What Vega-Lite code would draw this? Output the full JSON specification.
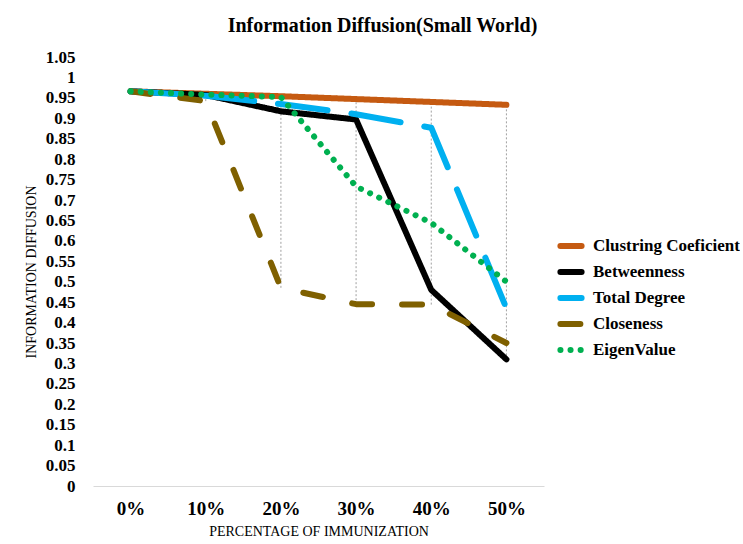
{
  "$schema": "https://vega.github.io/schema/vega-lite/v6.json",
  "width": 451,
  "height": 429,
  "padding": {"left": 24, "top": 16, "right": 0, "bottom": 5},
  "background": "white",
  "title": {
    "text": "Information Diffusion(Small World)",
    "font": "Liberation Serif",
    "fontSize": 20,
    "fontWeight": "bold",
    "color": "#000000",
    "anchor": "middle",
    "dx": 64,
    "offset": 12
  },
  "config": {
    "view": {"stroke": null},
    "font": "Liberation Serif"
  },
  "data": {
    "values": [
      {"pct": "0%", "series": "Clustring Coeficient", "value": 0.966},
      {"pct": "10%", "series": "Clustring Coeficient", "value": 0.96},
      {"pct": "20%", "series": "Clustring Coeficient", "value": 0.954},
      {"pct": "30%", "series": "Clustring Coeficient", "value": 0.947},
      {"pct": "40%", "series": "Clustring Coeficient", "value": 0.94},
      {"pct": "50%", "series": "Clustring Coeficient", "value": 0.933},
      {"pct": "0%", "series": "Betweenness", "value": 0.966},
      {"pct": "10%", "series": "Betweenness", "value": 0.957},
      {"pct": "20%", "series": "Betweenness", "value": 0.917},
      {"pct": "30%", "series": "Betweenness", "value": 0.897},
      {"pct": "40%", "series": "Betweenness", "value": 0.48},
      {"pct": "50%", "series": "Betweenness", "value": 0.31},
      {"pct": "0%", "series": "Total Degree", "value": 0.966},
      {"pct": "10%", "series": "Total Degree", "value": 0.955},
      {"pct": "20%", "series": "Total Degree", "value": 0.935},
      {"pct": "30%", "series": "Total Degree", "value": 0.91},
      {"pct": "40%", "series": "Total Degree", "value": 0.877},
      {"pct": "50%", "series": "Total Degree", "value": 0.435},
      {"pct": "0%", "series": "Closeness", "value": 0.966},
      {"pct": "10%", "series": "Closeness", "value": 0.942},
      {"pct": "20%", "series": "Closeness", "value": 0.485},
      {"pct": "30%", "series": "Closeness", "value": 0.445},
      {"pct": "40%", "series": "Closeness", "value": 0.444},
      {"pct": "50%", "series": "Closeness", "value": 0.35},
      {"pct": "0%", "series": "EigenValue", "value": 0.966},
      {"pct": "10%", "series": "EigenValue", "value": 0.958},
      {"pct": "20%", "series": "EigenValue", "value": 0.952},
      {"pct": "30%", "series": "EigenValue", "value": 0.733},
      {"pct": "40%", "series": "EigenValue", "value": 0.644},
      {"pct": "50%", "series": "EigenValue", "value": 0.5}
    ]
  },
  "encoding": {
    "x": {
      "field": "pct",
      "type": "ordinal",
      "sort": ["0%", "10%", "20%", "30%", "40%", "50%"],
      "scale": {"type": "point", "padding": 0.5},
      "axis": {
        "title": "PERCENTAGE  OF IMMUNIZATION",
        "titleFont": "Liberation Serif",
        "titleFontSize": 14,
        "titleFontWeight": "normal",
        "titleColor": "#000000",
        "titlePadding": 6,
        "labelFont": "Liberation Serif",
        "labelFontSize": 19,
        "labelFontWeight": "bold",
        "labelColor": "#000000",
        "labelAngle": 0,
        "labelPadding": 13,
        "ticks": false,
        "grid": false,
        "domain": true,
        "domainColor": "#d9d9d9",
        "domainWidth": 1
      }
    }
  },
  "layer": [
    {
      "mark": {"type": "rule", "color": "#a0a0a0", "strokeWidth": 1, "strokeDash": [2, 2]},
      "encoding": {
        "y": {
          "aggregate": "min",
          "field": "value",
          "type": "quantitative",
          "scale": {"domain": [0, 1.05], "nice": false},
          "axis": {
            "title": "INFORMATION DIFFUSION",
            "titleFont": "Liberation Serif",
            "titleFontSize": 14,
            "titleFontWeight": "normal",
            "titleColor": "#000000",
            "titlePadding": 7,
            "values": [0, 0.05, 0.1, 0.15, 0.2, 0.25, 0.3, 0.35, 0.4, 0.45, 0.5, 0.55, 0.6, 0.65, 0.7, 0.75, 0.8, 0.85, 0.9, 0.95, 1, 1.05],
            "format": "~g",
            "labelFont": "Liberation Serif",
            "labelFontSize": 17,
            "labelFontWeight": "bold",
            "labelColor": "#000000",
            "labelPadding": 18,
            "labelOverlap": false,
            "ticks": false,
            "grid": false,
            "domain": false
          }
        },
        "y2": {"aggregate": "max", "field": "value"}
      }
    },
    {
      "mark": {"type": "line", "strokeWidth": 6, "strokeCap": "round", "strokeJoin": "round"},
      "encoding": {
        "y": {
          "field": "value",
          "type": "quantitative",
          "scale": {"domain": [0, 1.05], "nice": false},
          "axis": {
            "title": "INFORMATION DIFFUSION",
            "titleFont": "Liberation Serif",
            "titleFontSize": 14,
            "titleFontWeight": "normal",
            "titleColor": "#000000",
            "titlePadding": 7,
            "values": [0, 0.05, 0.1, 0.15, 0.2, 0.25, 0.3, 0.35, 0.4, 0.45, 0.5, 0.55, 0.6, 0.65, 0.7, 0.75, 0.8, 0.85, 0.9, 0.95, 1, 1.05],
            "format": "~g",
            "labelFont": "Liberation Serif",
            "labelFontSize": 17,
            "labelFontWeight": "bold",
            "labelColor": "#000000",
            "labelPadding": 18,
            "labelOverlap": false,
            "ticks": false,
            "grid": false,
            "domain": false
          }
        },
        "color": {
          "field": "series",
          "type": "nominal",
          "scale": {
            "domain": ["Clustring Coeficient", "Betweenness", "Total Degree", "Closeness", "EigenValue"],
            "range": ["#C55A11", "#000000", "#00B0F0", "#7F6000", "#00B050"]
          },
          "legend": {
            "title": null,
            "orient": "none",
            "legendX": 464,
            "legendY": 175,
            "symbolType": "stroke",
            "symbolSize": 450,
            "symbolStrokeWidth": 6,
            "labelFont": "Liberation Serif",
            "labelFontSize": 17,
            "labelFontWeight": "bold",
            "labelColor": "#000000",
            "labelOffset": 8,
            "rowPadding": 0,
            "labelLimit": 300,
            "encoding": {
              "symbols": {
                "strokeCap": {"value": "round"},
                "strokeDash": {
                  "condition": {"test": "datum.value === 'EigenValue'", "value": [0.1, 10]},
                  "value": [1, 0]
                }
              }
            }
          }
        },
        "strokeDash": {
          "field": "series",
          "type": "nominal",
          "scale": {
            "domain": ["Clustring Coeficient", "Betweenness", "Total Degree", "Closeness", "EigenValue"],
            "range": [[1, 0], [1, 0], [50, 24], [20, 30], [0.1, 10]]
          },
          "legend": null
        }
      }
    }
  ]
}
